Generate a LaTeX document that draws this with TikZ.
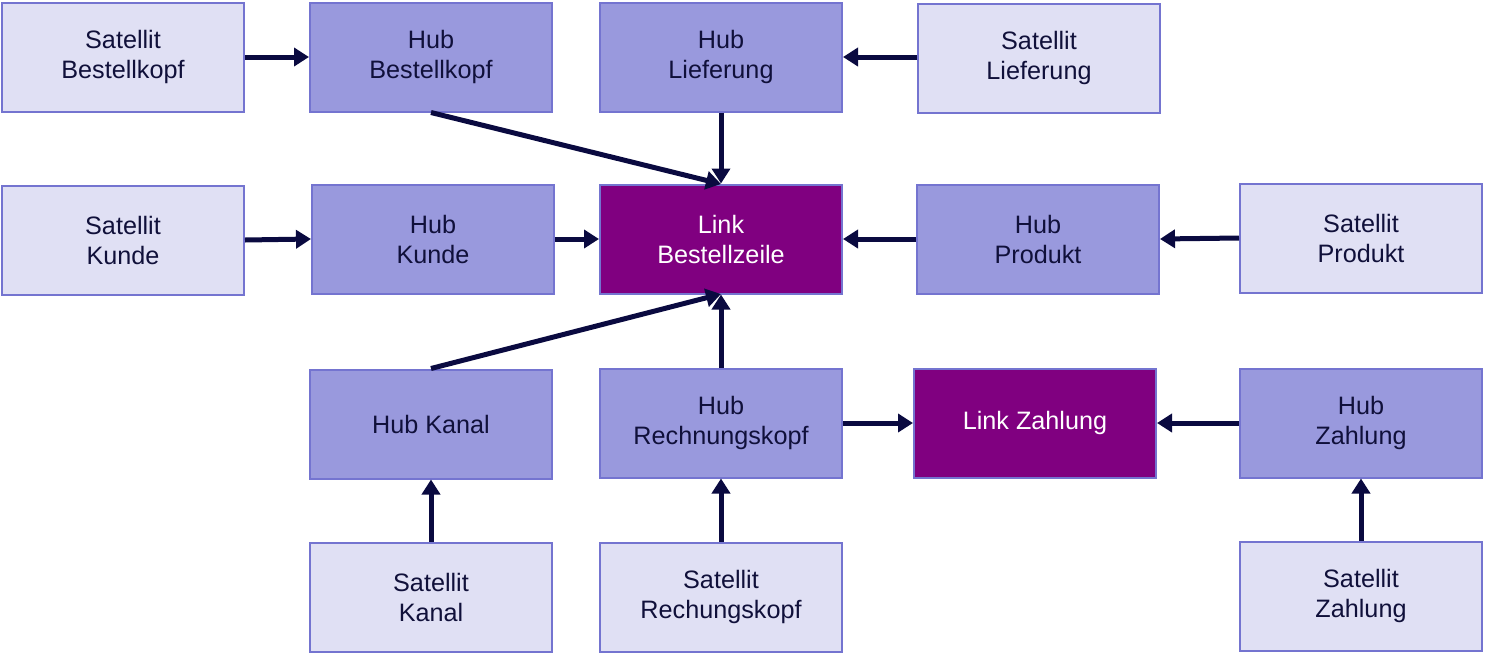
\documentclass[tikz,border=0pt]{standalone}
\usepackage{fontspec}
\setmainfont{Liberation Sans}
\usetikzlibrary{arrows.meta}
\definecolor{satfill}{HTML}{E0E0F4}
\definecolor{hubfill}{HTML}{9999DD}
\definecolor{linkfill}{HTML}{800080}
\definecolor{boxline}{HTML}{7474D0}
\definecolor{arr}{HTML}{0A0A40}
\definecolor{txt}{HTML}{10103A}
\begin{document}
\begin{tikzpicture}[x=0.5pt,y=-0.5pt,
  box/.style={draw=boxline,line width=1pt,minimum width=121pt,minimum height=54.5pt,inner sep=0pt,align=center,font=\fontsize{12.6}{15}\selectfont,text=txt},
  sat/.style={box,fill=satfill},
  hub/.style={box,fill=hubfill},
  lnk/.style={box,fill=linkfill,text=white},
  con/.style={draw=arr,line width=2.5pt,-{Triangle[length=7.5pt,width=9pt]}}]
\useasboundingbox (0,0) rectangle (1485,654);
\node[sat] (sbk) at (123,57) {Satellit\\Bestellkopf};
\node[hub] (hbk) at (431,57) {Hub\\Bestellkopf};
\node[hub] (hlf) at (721,57) {Hub\\Lieferung};
\node[sat] (slf) at (1039,58) {Satellit\\Lieferung};
\node[sat] (skd) at (123,240) {Satellit\\Kunde};
\node[hub] (hkd) at (433,239) {Hub\\Kunde};
\node[lnk] (lbz) at (721,239) {Link\\Bestellzeile};
\node[hub] (hpr) at (1038,239) {Hub\\Produkt};
\node[sat] (spr) at (1361,238) {Satellit\\Produkt};
\node[hub] (hka) at (431,424) {Hub Kanal};
\node[hub] (hrk) at (721,423) {Hub\\Rechnungskopf};
\node[lnk] (lza) at (1035,423) {Link Zahlung};
\node[hub] (hza) at (1361,423) {Hub\\Zahlung};
\node[sat] (ska) at (431,597) {Satellit\\Kanal};
\node[sat] (srk) at (721,597) {Satellit\\Rechungskopf};
\node[sat] (sza) at (1361,596) {Satellit\\Zahlung};
\coordinate (ltop) at (721,184);
\coordinate (lbot) at (721,294);
\draw[con] (sbk.east) -- (hbk.west);
\draw[con] (slf.west |- hlf.east) -- (hlf.east);
\draw[con] (hbk.south) -- (ltop);
\draw[con] (hlf.south) -- (lbz.north);
\draw[con] (skd.east) -- (hkd.west);
\draw[con] (hkd.east) -- (lbz.west);
\draw[con] (hpr.west) -- (lbz.east);
\draw[con] (spr.west) -- (hpr.east);
\draw[con] (hka.north) -- (lbot);
\draw[con] (hrk.north) -- (lbz.south);
\draw[con] (hrk.east) -- (lza.west);
\draw[con] (hza.west) -- (lza.east);
\draw[con] (ska.north) -- (hka.south);
\draw[con] (srk.north) -- (hrk.south);
\draw[con] (sza.north) -- (hza.south);
\end{tikzpicture}
\end{document}
